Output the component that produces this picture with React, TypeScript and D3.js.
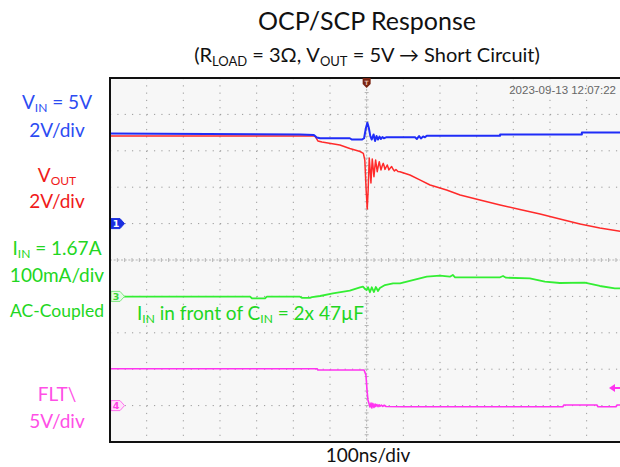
import React from "react";
import * as d3 from "d3";

// ---- Data (time in ns relative to trigger) ----
const T_VIN = [-700,-182,-144,-136,-127,-46,-40,-13,-7,-2,2,6,10,14,19,23,27,31,35,39,43,47,53,132,137,143,148,154,159,164,364,364,587,587,700];
const VIN = [4.95,4.90,4.87,4.73,4.69,4.69,4.62,4.62,4.69,5.25,5.54,5.25,4.81,4.62,4.90,4.54,4.81,4.62,4.78,4.65,4.76,4.69,4.74,4.74,4.65,4.81,4.68,4.79,4.74,4.83,4.83,4.90,4.90,5.01,5.01];

const T_VOUT = [-700,-141,-133,-122,-73,-46,-18,-9,-5,-1.4,1.6,4.1,7.1,9.5,11.7,13.6,15.3,17.7,19.9,22.1,24.5,26.7,28.9,31.6,34.4,36.8,39,42.3,45.3,47.7,49.9,53.2,56.2,58.6,60.8,64.4,68.2,71.7,75.8,79.9,85.4,90.8,118,145,173,218,255,309,364,418,473,527,582,636,700];
const VOUT = [5.31,5.31,5.04,4.98,4.82,4.63,4.46,4.36,3.99,2.35,1.30,2.35,4.10,3.45,2.73,3.45,4.05,3.55,3.08,3.55,3.99,3.66,3.35,3.66,3.90,3.66,3.45,3.66,3.81,3.66,3.48,3.61,3.72,3.58,3.45,3.55,3.63,3.50,3.39,3.47,3.36,3.35,3.17,2.90,2.62,2.35,2.07,1.80,1.52,1.27,1.03,0.75,0.48,0.26,0.05];

const T_IIN = [-700,-318,-313,-277,-272,-182,-176,-155,-149,-127,-92,-46,-18,-10,-4,0,4,9,14,20,25,31,36,50,72,91,126,164,200,227,235,241,364,372,380,445,486,527,595,636,677,700];
const IIN_MA = [-0.8,-0.8,-5.2,-5.2,-0.8,-0.8,-4,-4,-2,1.1,8.5,15.7,25,26.6,20,17.6,25,11.3,25,12,25.8,14.8,23.1,31.3,36,36,45,54.1,56.9,54.1,58.8,52.5,52.5,56,51.4,49.7,40.4,36.8,37.6,28.6,22.3,21.8];

const T_FLT = [-700,-135,-133,-7,-2,1,3.5,6,9,12,14,17,20,23,25,28,31,34,36,40,44,48,53,99,535,538,628,631,680,683,700];
const FLT = [5.07,5.07,4.89,4.89,4.2,2.14,0.77,0.36,-0.19,0.36,-0.33,0.3,-0.25,0.22,-0.12,0.15,-0.15,0.12,-0.1,0.08,-0.12,0.05,-0.12,-0.15,-0.15,0.08,0.08,-0.15,-0.15,0.08,0.08];

const GRID_T = d3.range(-600, 601, 100);
const GRID_DIV = d3.range(-4, 5, 1);
const TIMESTAMP = "2023-09-13 12:07:22";

// ---- Layout ----
const W = 620, H = 467;
const PL = 110, PR = 623.3, PT = 78, PB = 442;
const FONT = "Lato, 'Open Sans', sans-serif";

const x = d3.scaleLinear().domain([-700, 700]).range([PL, PR]);
const yDiv = d3.scaleLinear().domain([-5, 5]).range([PB, PT]);

function tracePath(ts: number[], vs: number[], offset: number, scale: number) {
  const pts: [number, number][] = ts.map((t, i) => [t, vs[i]]);
  const gen = d3
    .line<[number, number]>()
    .x((d) => x(d[0]))
    .y((d) => yDiv(offset + d[1] / scale));
  return gen(pts) || "";
}

const C_BLUE = "#2c4cf2";
const C_RED = "#f01a1a";
const C_GREEN = "#22d622";
const C_MAG = "#ff4fe6";

function Marker({ y, label, fill, stroke, textFill }: any) {
  const x0 = 111;
  const pts = `${x0},${y - 5} ${x0 + 9},${y - 5} ${x0 + 13.5},${y} ${x0 + 9},${y + 5} ${x0},${y + 5}`;
  return (
    <g>
      <polygon points={pts} fill={fill} stroke={stroke} strokeWidth={1} />
      <text x={x0 + 5} y={y + 3.5} fontSize={9.5} fontWeight="bold" fontFamily="'DejaVu Sans', sans-serif" fill={textFill} textAnchor="middle">
        {label}
      </text>
    </g>
  );
}

export default function App() {
  const divW = x(100) - x(0);
  const divH = yDiv(0) - yDiv(1);
  const cx = x(0);
  const cy = yDiv(0);
  const hTicks = d3.range(0, 71).map((i) => PL + (i * divW) / 5);
  const vTicks = d3.range(0, 51).map((i) => PT + (i * divH) / 5);

  return (
    <svg width={W} height={H} style={{ position: "absolute", left: 0, top: 0, background: "#fff" }}>
      <defs>
        <clipPath id="plotclip">
          <rect x={PL} y={PT} width={PR - PL} height={PB - PT} />
        </clipPath>
      </defs>

      {/* Titles */}
      <text x={367} y={30} textAnchor="middle" fontFamily={FONT} fontSize={25} fill="#111">
        OCP/SCP Response
      </text>
      <text x={367} y={62} textAnchor="middle" fontFamily={FONT} fontSize={20} fill="#111">
        (R<tspan fontSize={13} dy={4}>LOAD</tspan>
        <tspan dy={-4}> = 3Ω, V</tspan>
        <tspan fontSize={13} dy={4}>OUT</tspan>
        <tspan dy={-4}> = 5V → Short Circuit)</tspan>
      </text>

      {/* Plot background */}
      <rect x={PL} y={PT} width={PR - PL} height={PB - PT} fill="#f7f7f7" />

      <g clipPath="url(#plotclip)">
        {/* Grid */}
        {GRID_T.filter((t) => t !== 0).map((t) => (
          <line key={"gx" + t} x1={x(t)} x2={x(t)} y1={PT} y2={PB} stroke="#9a9a9a" strokeWidth={1} strokeDasharray={`1.2 ${divH / 5 - 1.2}`} />
        ))}
        {GRID_DIV.filter((d) => d !== 0).map((d) => (
          <line key={"gy" + d} x1={PL} x2={PR} y1={yDiv(d)} y2={yDiv(d)} stroke="#9a9a9a" strokeWidth={1} strokeDasharray={`1.2 ${divW / 5 - 1.2}`} />
        ))}
        {/* Center cross lines */}
        <line x1={PL} x2={PR} y1={cy} y2={cy} stroke="#b5b5b5" strokeWidth={1} strokeDasharray={`2 ${divW / 10 - 2}`} />
        {hTicks.map((px, i) => (
          <line key={"ht" + i} x1={px} x2={px} y1={cy - 2} y2={cy + 2} stroke="#b5b5b5" strokeWidth={1} />
        ))}
        <line x1={cx} x2={cx} y1={PT} y2={PB} stroke="#b5b5b5" strokeWidth={1} strokeDasharray={`2 ${divH / 10 - 2}`} />
        {vTicks.map((py, i) => (
          <line key={"vt" + i} x1={cx - 2} x2={cx + 2} y1={py} y2={py} stroke="#b5b5b5" strokeWidth={1} />
        ))}

        {/* Traces */}
        <path d={tracePath(T_FLT, FLT, -4, 5)} fill="none" stroke="#ff33f0" strokeWidth={1.6} strokeLinejoin="round" />
        <path d={tracePath(T_IIN, IIN_MA, -1, 100)} fill="none" stroke="#33ee33" strokeWidth={1.8} strokeLinejoin="round" />
        <path d={tracePath(T_VOUT, VOUT, 0.75, 2)} fill="none" stroke="#ff2a2a" strokeWidth={1.5} strokeLinejoin="round" />
        <path d={tracePath(T_VIN, VIN, 1, 2)} fill="none" stroke="#1f2cf8" strokeWidth={2} strokeLinejoin="round" />

        {/* Trigger level marker (right) */}
        <polygon points={`609,${388} 615,${384} 615,${392}`} fill="#ff33f0" />
        <line x1={614} x2={622} y1={388} y2={388} stroke="#ff33f0" strokeWidth={2} />
      </g>

      {/* Channel markers */}
      <Marker y={yDiv(1)} label="1" fill="#1a2fe0" stroke="#1a2fe0" textFill="#fff" />
      <Marker y={yDiv(-1)} label="3" fill="#e6fbe6" stroke="#7ee87e" textFill="#3ad63a" />
      <Marker y={yDiv(-4)} label="4" fill="#ffe2fb" stroke="#ff70ee" textFill="#ff40e6" />

      {/* Frame */}
      <rect x={PL} y={PT} width={PR - PL + 10} height={PB - PT} fill="none" stroke="#111" strokeWidth={2} />

      {/* Trigger position marker (top) */}
      <path d={`M${cx - 4},${PT} L${cx + 4},${PT} L${cx + 4},${PT + 6} L${cx},${PT + 10} L${cx - 4},${PT + 6} Z`} fill="#7a2412" />
      <text x={cx} y={PT + 7} textAnchor="middle" fontSize={6} fontWeight="bold" fill="#e8c0b0" fontFamily="'DejaVu Sans', sans-serif">T</text>

      {/* Timestamp */}
      <text x={616} y={94} textAnchor="end" fontFamily="'Liberation Sans', Arial, sans-serif" fontSize={11.5} fill="#666">
        {TIMESTAMP}
      </text>

      {/* Left channel labels */}
      <g fontFamily={FONT} fontSize={19} textAnchor="middle">
        <text x={57} y={109} fill={C_BLUE}>
          V<tspan fontSize={12} dy={3}>IN</tspan>
          <tspan dy={-3}> = 5V</tspan>
        </text>
        <text x={57} y={137} fill={C_BLUE}>2V/div</text>

        <text x={57} y={182} fill={C_RED}>
          V<tspan fontSize={12} dy={3}>OUT</tspan>
        </text>
        <text x={57} y={208} fill={C_RED}>2V/div</text>

        <text x={57} y={255} fill={C_GREEN}>
          I<tspan fontSize={12} dy={3}>IN</tspan>
          <tspan dy={-3}> = 1.67A</tspan>
        </text>
        <text x={57} y={282} fill={C_GREEN}>100mA/div</text>
        <text x={57} y={317} fill={C_GREEN} fontSize={17.5}>AC-Coupled</text>

        <text x={57} y={401} fill={C_MAG}>FLT\</text>
        <text x={57} y={428} fill={C_MAG}>5V/div</text>
      </g>

      {/* In-plot annotation */}
      <text x={137} y={320} fontFamily={FONT} fontSize={19} fill={C_GREEN}>
        I<tspan fontSize={12} dy={3}>IN</tspan>
        <tspan dy={-3}> in front of C</tspan>
        <tspan fontSize={12} dy={3}>IN</tspan>
        <tspan dy={-3}> = 2x 47µF</tspan>
      </text>

      {/* X label */}
      <text x={368} y={462} textAnchor="middle" fontFamily={FONT} fontSize={19} fill="#111">
        100ns/div
      </text>
    </svg>
  );
}
